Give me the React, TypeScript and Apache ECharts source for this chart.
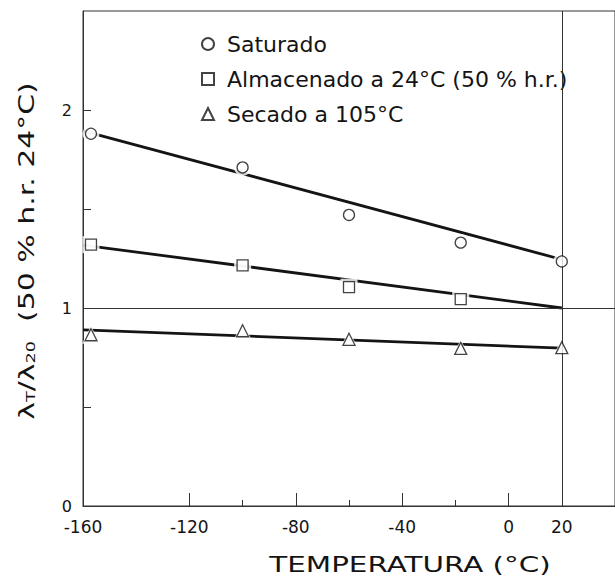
import React, { useEffect, useRef } from "react";
import * as echarts from "echarts";

// Temperatures (°C) at which the ratio was measured
const tempsSat = [-157, -100, -60, -18, 20];
const tempsAlm = [-157, -100, -60, -18];
const tempsSec = [-157, -100, -60, -18, 20];

// Measured ratios λT/λ20
const satVals = [1.88, 1.71, 1.47, 1.33, 1.235];
const almVals = [1.32, 1.215, 1.105, 1.045];
const secVals = [0.865, 0.885, 0.842, 0.796, 0.8];

// Fitted straight lines (end points)
const satFit = [[-160, 1.895], [20, 1.245]];
const almFit = [[-160, 1.318], [20, 1.0]];
const secFit = [[-160, 0.89], [20, 0.797]];

// Axis labels and ticks
const xLabelValues = [-160, -120, -80, -40, 0, 20];
const xMajorTicks = [-120, -80, -40, 0];
const xMinorTicks = [-100, -60, -20];
const yLabelValues = [0, 1, 2];
const yTickValues = [0.5, 1.5, 2];

const seriesNames = [
  "Saturado",
  "Almacenado a 24°C (50 % h.r.)",
  "Secado a 105°C",
];

const FONT = "DejaVu Sans";
const INK = "#141414";

const zip = (xs: number[], ys: number[]) => xs.map((x, i) => [x, ys[i]]);

export default function App() {
  const ref = useRef<HTMLDivElement>(null);

  useEffect(() => {
    if (!ref.current) return;
    const chart = echarts.init(ref.current, null, { renderer: "svg" });

    const fitLine = (name: string, data: number[][]) => ({
      name,
      type: "line",
      data,
      showSymbol: false,
      symbol: "none",
      z: 2,
      silent: true,
      lineStyle: { color: INK, width: 2.8 },
    });

    const halo = (name: string, data: number[][], symbol: string, size: number) => ({
      name,
      type: "scatter",
      data,
      symbol,
      symbolSize: size,
      z: 3,
      silent: true,
      itemStyle: { color: "#ffffff", borderWidth: 0 },
    });

    const marks = (name: string, data: number[][], symbol: string, size: number) => ({
      name,
      type: "scatter",
      data,
      symbol,
      symbolSize: size,
      z: 5,
      itemStyle: { color: "#ffffff", borderColor: INK, borderWidth: 1.3 },
    });

    const satPts = zip(tempsSat, satVals);
    const almPts = zip(tempsAlm, almVals);
    const secPts = zip(tempsSec, secVals);

    const axisLineStyle = { color: "#333", width: 1 };

    chart.setOption({
      animation: false,
      backgroundColor: "#ffffff",
      textStyle: { fontFamily: FONT },
      grid: {
        left: 83,
        right: -2,
        top: 11,
        bottom: 72,
        show: true,
        borderColor: "#333",
        borderWidth: 1,
      },
      legend: {
        data: seriesNames,
        orient: "vertical",
        left: 196,
        top: 28,
        itemWidth: 12,
        itemHeight: 12,
        itemGap: 13,
        textStyle: {
          fontFamily: FONT,
          fontSize: 22,
          color: INK,
          padding: [0, 0, 0, 8],
        },
        selectedMode: false,
      },
      xAxis: [
        {
          type: "value",
          min: -160,
          max: 40,
          interval: 40,
          splitLine: { show: false },
          axisLine: { show: true, onZero: false, lineStyle: axisLineStyle },
          axisTick: {
            show: true,
            inside: true,
            length: 13,
            customValues: xMajorTicks,
            lineStyle: axisLineStyle,
          },
          axisLabel: {
            customValues: xLabelValues,
            fontFamily: FONT,
            fontSize: 17,
            color: INK,
            margin: 12,
          },
        },
        {
          type: "value",
          min: -160,
          max: 40,
          interval: 40,
          position: "bottom",
          splitLine: { show: false },
          axisLine: { show: false, onZero: false },
          axisTick: {
            show: true,
            inside: true,
            length: 6,
            customValues: xMinorTicks,
            lineStyle: axisLineStyle,
          },
          axisLabel: { show: false },
        },
      ],
      yAxis: {
        type: "value",
        min: 0,
        max: 2.5,
        interval: 0.5,
        splitLine: { show: false },
        axisLine: { show: true, onZero: false, lineStyle: axisLineStyle },
        axisTick: {
          show: true,
          inside: true,
          length: 8,
          customValues: yTickValues,
          lineStyle: axisLineStyle,
        },
        axisLabel: {
          customValues: yLabelValues,
          fontFamily: FONT,
          fontSize: 16,
          color: INK,
          margin: 11,
        },
      },
      graphic: [
        {
          type: "text",
          x: 410,
          y: 565,
          scaleX: 1.4,
          style: {
            text: "TEMPERATURA (°C)",
            fontFamily: FONT,
            fontSize: 21,
            fill: INK,
            align: "center",
            verticalAlign: "middle",
          },
        },
        {
          type: "text",
          x: 23,
          y: 251,
          rotation: Math.PI / 2,
          scaleX: 1.36,
          style: {
            text: "{l|λ}{s|T}{l|/λ}{s|20}{l|  (50 % h.r. 24°C)}",
            fontFamily: FONT,
            fill: INK,
            align: "center",
            verticalAlign: "middle",
            rich: {
              l: { fontSize: 22, fontFamily: FONT, fill: INK, lineHeight: 28, verticalAlign: "bottom" },
              s: { fontSize: 13, fontFamily: FONT, fill: INK, lineHeight: 28, verticalAlign: "bottom" },
            },
          },
        },
      ],
      series: [
        {
          name: "referencia",
          type: "line",
          data: [],
          z: 4,
          silent: true,
          markLine: {
            silent: true,
            symbol: "none",
            label: { show: false },
            lineStyle: { color: "#333", width: 1, type: "solid" },
            data: [{ yAxis: 1 }, { xAxis: 20 }],
          },
        },
        fitLine("ajuste-sat", satFit),
        fitLine("ajuste-alm", almFit),
        fitLine("ajuste-sec", secFit),
        halo("halo-sat", satPts, "circle", 17),
        halo("halo-alm", almPts, "rect", 17),
        halo("halo-sec", secPts, "triangle", 18),
        marks(seriesNames[0], satPts, "circle", 11),
        marks(seriesNames[1], almPts, "rect", 11),
        marks(seriesNames[2], secPts, "triangle", 12),
      ],
    });

    return () => chart.dispose();
  }, []);

  return (
    <div
      ref={ref}
      style={{ position: "absolute", left: 0, top: 0, width: 615, height: 578 }}
    />
  );
}
